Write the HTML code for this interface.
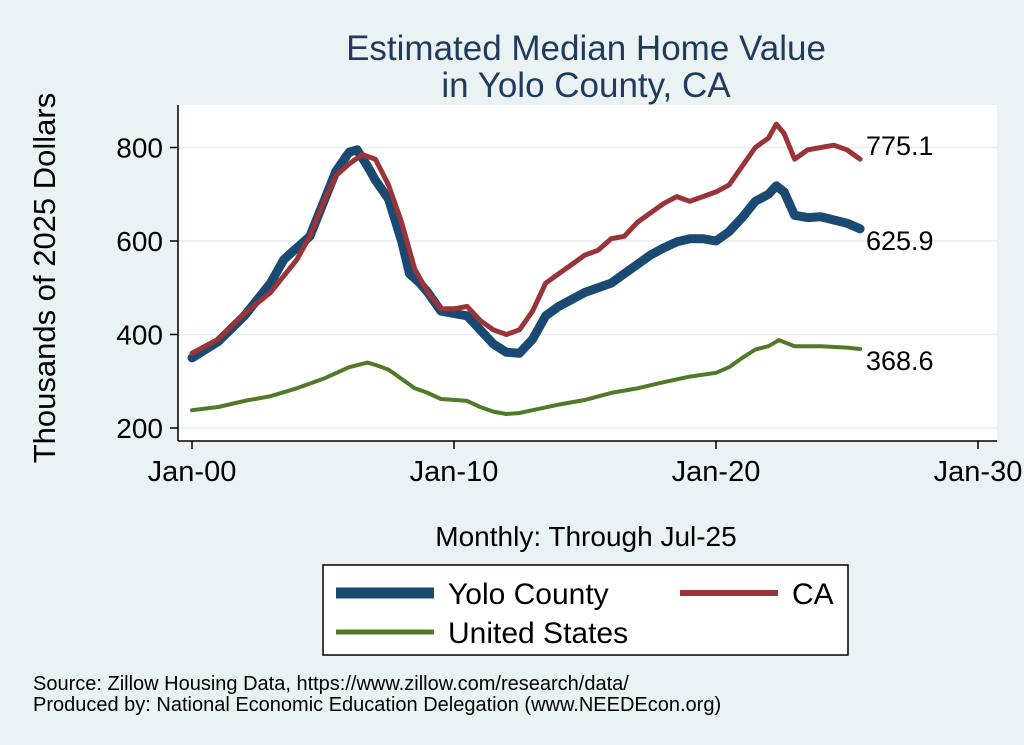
<!DOCTYPE html>
<html><head><meta charset="utf-8"><style>
body{margin:0;background:#eaf2f3;}
svg{display:block;font-family:"Liberation Sans",sans-serif;}
</style></head><body>
<svg width="1024" height="745" viewBox="0 0 1024 745">
<rect x="0" y="0" width="1024" height="745" fill="#eaf2f3"/>
<text x="586" y="60" font-size="35" fill="#1f3a5f" text-anchor="middle">Estimated Median Home Value</text>
<text x="586" y="97" font-size="35" fill="#1f3a5f" text-anchor="middle">in Yolo County, CA</text>
<rect x="178" y="105" width="819" height="336" fill="#fff"/>
<g id="grid"></g><g id="axes"></g><g id="series"></g><g id="labels"></g>
<text x="55" y="278" font-size="31" fill="#000" text-anchor="middle" transform="rotate(-90 55 278)">Thousands of 2025 Dollars</text>
<text x="586" y="546" font-size="28" fill="#000" text-anchor="middle">Monthly: Through Jul-25</text>
<g>
<rect x="323" y="565" width="525" height="90" fill="#fff" stroke="#000" stroke-width="1.5"/>
<line x1="336" y1="593" x2="434" y2="593" stroke="#1a4a72" stroke-width="11"/>
<text x="448" y="604" font-size="30">Yolo County</text>
<line x1="680" y1="593" x2="778" y2="593" stroke="#9b3438" stroke-width="6"/>
<text x="792" y="604" font-size="30">CA</text>
<line x1="336" y1="632" x2="434" y2="632" stroke="#4f7a28" stroke-width="5"/>
<text x="448" y="643" font-size="30">United States</text>
</g>
<text x="33" y="690" font-size="20">Source: Zillow Housing Data, https://www.zillow.com/research/data/</text>
<text x="33" y="711" font-size="20">Produced by: National Economic Education Delegation (www.NEEDEcon.org)</text>
</svg>
<script>
const yTicks=[200,400,600,800];
const xTickYears=[2000,2010,2020,2030];
const xTickLabels=["Jan-00","Jan-10","Jan-20","Jan-30"];
const yoloYears=[2000,2001,2002,2003,2003.5,2004,2004.5,2005,2005.5,2006,2006.3,2006.7,2007,2007.5,2008,2008.3,2008.7,2009,2009.5,2010,2010.5,2011,2011.5,2012,2012.5,2013,2013.5,2014,2014.5,2015,2015.5,2016,2016.5,2017,2017.5,2018,2018.5,2019,2019.5,2020,2020.5,2021,2021.5,2022,2022.3,2022.6,2023,2023.5,2024,2024.5,2025,2025.5];
const yoloValues=[350,385,440,510,560,585,610,680,750,790,795,760,730,690,600,530,510,490,450,445,440,410,380,362,360,390,440,460,475,490,500,510,530,550,570,585,598,605,605,600,620,650,685,700,718,705,655,650,652,645,638,626];
const caYears=[2000,2001,2002,2003,2004,2004.5,2005,2005.5,2006,2006.5,2007,2007.5,2008,2008.5,2009,2009.5,2010,2010.5,2011,2011.5,2012,2012.5,2013,2013.5,2014,2014.5,2015,2015.5,2016,2016.5,2017,2017.5,2018,2018.5,2019,2019.5,2020,2020.5,2021,2021.5,2022,2022.3,2022.6,2023,2023.5,2024,2024.5,2025,2025.5];
const caValues=[360,390,445,490,560,610,680,740,765,785,775,720,640,540,490,455,455,460,430,410,400,410,450,510,530,550,570,580,605,610,640,660,680,695,685,695,705,720,760,800,820,850,830,775,795,800,805,795,775];
const usYears=[2000,2001,2002,2003,2004,2005,2006,2006.7,2007,2007.5,2008,2008.5,2009,2009.5,2010,2010.5,2011,2011.5,2012,2012.5,2013,2014,2015,2016,2017,2018,2019,2020,2020.5,2021,2021.5,2022,2022.4,2023,2024,2025,2025.5];
const usValues=[238,245,258,268,285,305,330,340,335,325,305,285,275,262,260,258,245,235,230,232,238,250,260,275,285,298,310,318,330,350,368,375,388,375,375,372,369];
const endLabels=["775.1","625.9","368.6"];
const NS="http://www.w3.org/2000/svg";
const xS=y=>192+(y-2000)*26.2;
const yS=v=>428-(v-200)*0.4675;
function mk(t,a,p){const e=document.createElementNS(NS,t);for(const k in a)e.setAttribute(k,a[k]);document.getElementById(p).appendChild(e);return e;}
yTicks.forEach(v=>{
 const g=mk('line',{x1:178,x2:997,y1:yS(v),y2:yS(v),stroke:'#e6eef0','stroke-width':1.5},'grid');
 
 
 const t=mk('line',{x1:170,x2:178,y1:yS(v),y2:yS(v),stroke:'#000','stroke-width':1.5},'axes');
 
 
 const l=mk('text',{x:163,y:yS(v)+10,'font-size':28,'text-anchor':'end'},'axes');
 l.textContent=v;
 
 
});
const ax=mk('line',{x1:178,x2:178,y1:105,y2:441,stroke:'#000','stroke-width':1.5},'axes');


const bx=mk('line',{x1:178,x2:997,y1:441,y2:441,stroke:'#000','stroke-width':1.5},'axes');


xTickYears.forEach((y,i)=>{
 const t=mk('line',{x1:xS(y),x2:xS(y),y1:441,y2:449,stroke:'#000','stroke-width':1.5},'axes');
 
 
 const l=mk('text',{x:xS(y),y:481,'font-size':29,'text-anchor':'middle'},'axes');
 l.textContent=xTickLabels[i];
 
 
});
function line(xs,vs,color,w,name){
 const d=xs.map((y,i)=>(i?'L':'M')+xS(y).toFixed(1)+','+yS(vs[i]).toFixed(1)).join('');
 const p=mk('path',{d:d,fill:'none',stroke:color,'stroke-width':w,'stroke-linejoin':'round','stroke-linecap':'round'},'series');
 
 
}
line(usYears,usValues,'#4f7a28',4,'us-line');
line(yoloYears,yoloValues,'#1a4a72',9,'yolo-line');
line(caYears,caValues,'#9b3438',5,'ca-line');
const ends=[[caValues,-13,'ca-end-label'],[yoloValues,12,'yolo-end-label'],[usValues,12,'us-end-label']];
ends.forEach((e,i)=>{
 const v=e[0][e[0].length-1];
 const l=mk('text',{x:866,y:yS(v)+e[1]+9,'font-size':27},'labels');
 l.textContent=endLabels[i];
 
 
});
</script>
</body></html>
